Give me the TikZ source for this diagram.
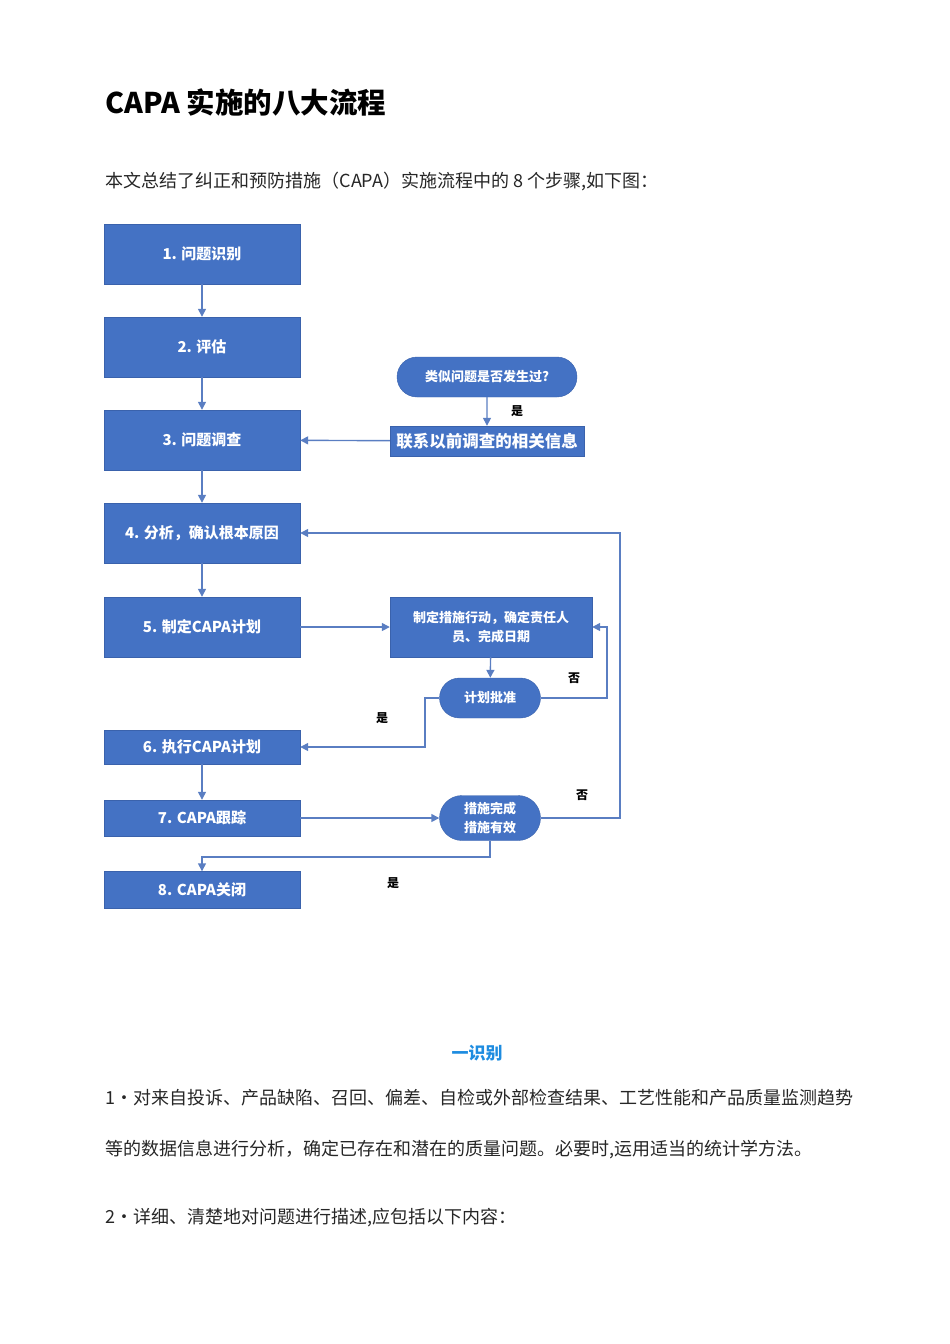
\documentclass[tikz,border=0pt]{standalone}
\usepackage{fontspec}
\setmainfont{Noto Sans CJK SC}
\usetikzlibrary{arrows.meta,shapes.misc}
\definecolor{bx}{HTML}{4472C4}
\definecolor{bd}{HTML}{3A62AC}
\definecolor{ln}{HTML}{5A7EC2}
\definecolor{hd}{HTML}{1E8CE0}
\tikzset{
 stepbox/.style={draw=bd,fill=bx,text=white,minimum width=196pt,inner sep=0pt,font=\fontsize{15}{17}\selectfont\bfseries},
 sidebox/.style={draw=bd,fill=bx,text=white,inner sep=0pt,align=center},
 pill/.style={rounded rectangle,draw=bd,fill=bx,text=white,inner sep=0pt,align=center,font=\fontsize{13}{15}\selectfont\bfseries},
 conn/.style={draw=ln,line width=1.4pt,-{Triangle[length=8pt,width=8pt]}},
 lbl/.style={font=\fontsize{12}{12}\selectfont\bfseries},
 body/.style={anchor=west,font=\fontsize{18}{20}\selectfont,text=black!85}
}
\begin{document}
\begin{tikzpicture}[x=1pt,y=-1pt]
\useasboundingbox (0,0) rectangle (950,1344);
\node[anchor=west,font=\fontsize{28.5}{30}\selectfont\bfseries] (title) at (102,102) {CAPA 实施的八大流程};
\node[body] (intro) at (102,182) {本文总结了纠正和预防措施（CAPA）实施流程中的 8 个步骤,如下图：};
\node[stepbox,minimum height=60pt] (s1) at (202,254) {1. 问题识别};
\node[stepbox,minimum height=60pt] (s2) at (202,347) {2. 评估};
\node[stepbox,minimum height=60pt] (s3) at (202,440) {3. 问题调查};
\node[stepbox,minimum height=60pt] (s4) at (202,533) {4. 分析，确认根本原因};
\node[stepbox,minimum height=60pt] (s5) at (202,627) {5. 制定CAPA计划};
\node[stepbox,minimum height=34pt] (s6) at (202,747) {6. 执行CAPA计划};
\node[stepbox,minimum height=36pt] (s7) at (202,818) {7. CAPA跟踪};
\node[stepbox,minimum height=37pt] (s8) at (202,890) {8. CAPA关闭};
\node[pill,minimum width=180pt,minimum height=40pt] (q) at (487,377) {类似问题是否发生过?};
\node[sidebox,minimum width=194pt,minimum height=30pt,font=\fontsize{16.5}{17}\selectfont\bfseries] (c) at (487,441) {联系以前调查的相关信息};
\node[sidebox,minimum width=202pt,minimum height=60pt,font=\fontsize{13}{19}\selectfont\bfseries] (m) at (491,627) {制定措施行动，确定责任人\\员、完成日期};
\node[pill,minimum width=101pt,minimum height=40pt] (a) at (490,698) {计划批准};
\node[pill,minimum width=101pt,minimum height=45pt,font=\fontsize{13}{19}\selectfont\bfseries] (e) at (490,818) {措施完成\\措施有效};
\draw[conn] (s1) -- (s2);
\draw[conn] (s2) -- (s3);
\draw[conn] (s3) -- (s4);
\draw[conn] (s4) -- (s5);
\draw[conn] (s6) -- (s7);
\draw[conn] (q) -- (c);
\draw[conn] (c) -- (s3);
\draw[conn] (s5) -- (m);
\draw[conn] (m) -- (a);
\draw[conn] (s7) -- (e);
\draw[conn] (a.east) -- (607,698) |- (m.east);
\draw[conn] (a.west) -- (425,698) |- (s6.east);
\draw[conn] (e.east) -- (620,818) |- (s4.east);
\draw[conn] (e.south) |- (202,857) -- (s8.north);
\node[lbl] (y1) at (517,411) {是};
\node[lbl] (n1) at (574,678) {否};
\node[lbl] (y2) at (382,718) {是};
\node[lbl] (n2) at (582,795) {否};
\node[lbl] (y3) at (393,883) {是};
\node[font=\fontsize{17}{18}\selectfont\bfseries,text=hd] (h) at (477,1053) {一识别};
\node[body] (p1) at (102,1098) {1•对来自投诉、产品缺陷、召回、偏差、自检或外部检查结果、工艺性能和产品质量监测趋势};
\node[body] (p2) at (102,1150) {等的数据信息进行分析，确定已存在和潜在的质量问题。必要时,运用适当的统计学方法。};
\node[body] (p3) at (102,1218) {2•详细、清楚地对问题进行描述,应包括以下内容：};
\end{tikzpicture}
\end{document}
